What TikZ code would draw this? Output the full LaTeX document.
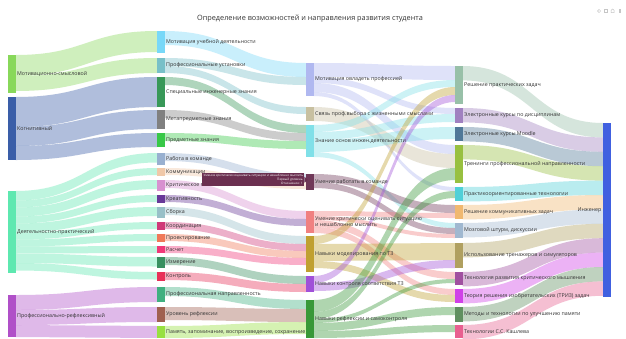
\documentclass[tikz,border=0pt]{standalone}
\usepackage{fontspec}
\setmainfont{Open Sans}
\usetikzlibrary{calc}
\pgfdeclarelayer{back}
\pgfdeclarelayer{flows}
\pgfsetlayers{back,flows,main}

\definecolor{cMS}{HTML}{88D85A}
\definecolor{cKOG}{HTML}{3A5EA8}
\definecolor{cDP}{HTML}{5EE8B0}
\definecolor{cPR}{HTML}{B050C8}
\definecolor{cMUD}{HTML}{78D8F8}
\definecolor{cPU}{HTML}{78C0C8}
\definecolor{cSIZ}{HTML}{389858}
\definecolor{cMZ}{HTML}{808080}
\definecolor{cPZ}{HTML}{38C848}
\definecolor{cRK}{HTML}{98B0D0}
\definecolor{cKOMM}{HTML}{F0C8A8}
\definecolor{cKM}{HTML}{D890D0}
\definecolor{cKREAT}{HTML}{683898}
\definecolor{cSB}{HTML}{98C0C8}
\definecolor{cKOORD}{HTML}{D03878}
\definecolor{cPROEKT}{HTML}{F07858}
\definecolor{cRASCH}{HTML}{F03878}
\definecolor{cIZM}{HTML}{389060}
\definecolor{cKONTR}{HTML}{E83058}
\definecolor{cPN}{HTML}{40B080}
\definecolor{cUR}{HTML}{A06050}
\definecolor{cPAM}{HTML}{98E040}
\definecolor{cMO}{HTML}{B0B8F0}
\definecolor{cSV}{HTML}{C8C0A0}
\definecolor{cZO}{HTML}{80E0E8}
\definecolor{cURK}{HTML}{703858}
\definecolor{cUKO}{HTML}{F08080}
\definecolor{cNM}{HTML}{C0A030}
\definecolor{cNK}{HTML}{A050D8}
\definecolor{cNR}{HTML}{389838}
\definecolor{cRPZ}{HTML}{98C0A8}
\definecolor{cEKD}{HTML}{A080C0}
\definecolor{cMOODLE}{HTML}{507898}
\definecolor{cTREN}{HTML}{98C040}
\definecolor{cPRAKT}{HTML}{50D0D8}
\definecolor{cRKZ}{HTML}{F0B870}
\definecolor{cMSH}{HTML}{A0B8D0}
\definecolor{cITS}{HTML}{B0A060}
\definecolor{cTRKM}{HTML}{A050A0}
\definecolor{cTRIZ}{HTML}{D040E8}
\definecolor{cMET}{HTML}{609060}
\definecolor{cKASH}{HTML}{E86090}
\definecolor{cING}{HTML}{4060E0}
\definecolor{cTIP}{HTML}{6B3050}

\tikzset{
  nbar/.style={draw=none, inner sep=0, outer sep=0, minimum width=7.5, minimum height=#1, anchor=north west},
  lbl/.style={font=\fontsize{5.3}{6.1}\selectfont, text=black!80, inner sep=0},
  lr/.style={label={[lbl]right:#1}},
  tiptxt/.style={font=\fontsize{3.1}{3.5}\selectfont, text=white, inner sep=0},
}

% band from #1 to #2, width #3, colour #4; stacked at both ends
\makeatletter
\newcommand{\sflow}[4]{%
  \@ifundefined{fo@#1}{\global\@namedef{fo@#1}{0}}{}%
  \@ifundefined{fi@#2}{\global\@namedef{fi@#2}{0}}{}%
  \edef\fa{\@nameuse{fo@#1}}\edef\fb{\@nameuse{fi@#2}}%
  \pgfmathsetmacro\fc{\fa+#3}\pgfmathsetmacro\fd{\fb+#3}%
  \begin{pgfonlayer}{flows}
    \fill[#4, fill opacity=.4]
      ($(#1.north east)+(0,\fa)$) .. controls +(70,0) and +(-70,0) .. ($(#2.north west)+(0,\fb)$)
      -- ($(#2.north west)+(0,\fd)$) .. controls +(-70,0) and +(70,0) .. ($(#1.north east)+(0,\fc)$) -- cycle;
  \end{pgfonlayer}%
  \global\expandafter\let\csname fo@#1\endcsname\fc
  \global\expandafter\let\csname fi@#2\endcsname\fd
}
\makeatother

\begin{document}
\begin{tikzpicture}[x=1pt, y=-1pt, label distance=1.5pt]
  \begin{pgfonlayer}{back}
    \fill[white] (0,0) rectangle (626,338);
  \end{pgfonlayer}
  \useasboundingbox (0,0) rectangle (626,338);

  \node[font=\fontsize{7.3}{8}\selectfont, text=black!80] (title) at (310,19) {Определение возможностей и направления развития студента};

  % level 0
  \node[nbar=38, fill=cMS, lr=Мотивационно-смысловой] (ms) at (8,55) {};
  \node[nbar=63, fill=cKOG, lr=Когнитивный] (kog) at (8,97) {};
  \node[nbar=82, fill=cDP, lr=Деятельностно-практический] (dp) at (8,191) {};
  \node[nbar=42, fill=cPR, lr=Профессионально-рефлексивный] (pr) at (8,295) {};

  % level 1
  \node[nbar=22, fill=cMUD, lr=Мотивация учебной деятельности] (mud) at (157,31) {};
  \node[nbar=15, fill=cPU, lr=Профессиональные установки] (pu) at (157,58) {};
  \node[nbar=30, fill=cSIZ, lr=Специальные инженерные знания] (siz) at (157,77) {};
  \node[nbar=19, fill=cMZ, lr=Метапредметные знания] (mz) at (157,110) {};
  \node[nbar=14, fill=cPZ, lr=Предметные знания] (pz) at (157,133) {};
  \node[nbar=12, fill=cRK, lr=Работа в команде] (rk) at (157,153) {};
  \node[nbar=8, fill=cKOMM, lr=Коммуникации] (komm) at (157,168) {};
  \node[nbar=11, fill=cKM, lr=Критическое мышление] (km) at (157,180) {};
  \node[nbar=8, fill=cKREAT, lr=Креативность] (kreat) at (157,195) {};
  \node[nbar=11, fill=cSB, lr=Сборка] (sb) at (157,207) {};
  \node[nbar=8, fill=cKOORD, lr=Координация] (koord) at (157,222) {};
  \node[nbar=8, fill=cPROEKT, lr=Проектирование] (proekt) at (157,234) {};
  \node[nbar=7, fill=cRASCH, lr=Расчет] (rasch) at (157,246) {};
  \node[nbar=11, fill=cIZM, lr=Измерение] (izm) at (157,257) {};
  \node[nbar=9, fill=cKONTR, lr=Контроль] (kontr) at (157,272) {};
  \node[nbar=15, fill=cPN, lr=Профессиональная направленность] (pn) at (157,287) {};
  \node[nbar=15, fill=cUR, lr=Уровень рефлексии] (ur) at (157,307) {};
  \node[nbar=12, fill=cPAM, lr={Память, запоминание, воспроизведение, сохранение}] (pam) at (157,326) {};

  % level 2
  \node[nbar=33, fill=cMO, lr=Мотивация овладеть профессией] (mo) at (306,63) {};
  \node[nbar=14, fill=cSV, lr=Связь проф.выбора с жизненными смыслами] (sv) at (306,107) {};
  \node[nbar=32, fill=cZO, lr=Знание основ инжен.деятельности] (zo) at (306,125) {};
  \node[nbar=16, fill=cURK, lr=Умение работать в команде] (urk) at (306,174) {};
  \node[nbar=22, fill=cUKO, label={[lbl, align=left]right:{Умение критически оценивать ситуацию\\и нешаблонно мыслить}}] (uko) at (306,211) {};
  \node[nbar=36, fill=cNM, lr=Навыки моделирования по ТЗ] (nm) at (306,236) {};
  \node[nbar=16, fill=cNK, lr=Навыки контроля соответствия ТЗ] (nk) at (306,276) {};
  \node[nbar=38, fill=cNR, lr=Навыки рефлексии и самоконтроля] (nr) at (306,300) {};

  % level 3
  \node[nbar=38, fill=cRPZ, lr=Решение практических задач] (rpz) at (455,66) {};
  \node[nbar=15, fill=cEKD, lr=Электронные курсы по дисциплинам] (ekd) at (455,108) {};
  \node[nbar=14, fill=cMOODLE, lr=Электронные курсы Moodle] (moodle) at (455,127) {};
  \node[nbar=38, fill=cTREN, lr=Тренинги профессиональной направленности] (tren) at (455,145) {};
  \node[nbar=14, fill=cPRAKT, lr=Практикоориентированные технологии] (prakt) at (455,187) {};
  \node[nbar=14, fill=cRKZ, lr=Решение коммуникативных задач] (rkz) at (455,205) {};
  \node[nbar=15, fill=cMSH, lr={Мозговой штурм, дискуссии}] (msh) at (455,223) {};
  \node[nbar=25, fill=cITS, lr=Использование тренажеров и симуляторов] (its) at (455,243) {};
  \node[nbar=13, fill=cTRKM, lr=Технология развития критического мышления] (trkm) at (455,272) {};
  \node[nbar=14, fill=cTRIZ, lr=Теория решения изобретательских (ТРИЗ) задач] (triz) at (455,289) {};
  \node[nbar=15, fill=cMET, lr=Методы и технологии по улучшению памяти] (met) at (455,307) {};
  \node[nbar=13, fill=cKASH, lr=Технологии С.С. Кашлева] (kash) at (455,325) {};

  % level 4
  \node[nbar=174, fill=cING, label={[lbl]left:Инженер}] (ing) at (603,123) {};

  % bands 0 -> 1
  \sflow{ms}{mud}{21}{cMS}
  \sflow{ms}{pu}{15}{cMS}
  \sflow{kog}{siz}{30}{cKOG}
  \sflow{kog}{mz}{19}{cKOG}
  \sflow{kog}{pz}{14}{cKOG}
  \sflow{dp}{rk}{9.5}{cDP}
  \sflow{dp}{komm}{7}{cDP}
  \sflow{dp}{km}{9}{cDP}
  \sflow{dp}{kreat}{7}{cDP}
  \sflow{dp}{sb}{9}{cDP}
  \sflow{dp}{koord}{7}{cDP}
  \sflow{dp}{proekt}{7}{cDP}
  \sflow{dp}{rasch}{7}{cDP}
  \sflow{dp}{izm}{9.5}{cDP}
  \sflow{dp}{kontr}{7.5}{cDP}
  \sflow{pr}{pn}{15}{cPR}
  \sflow{pr}{ur}{15}{cPR}
  \sflow{pr}{pam}{12}{cPR}

  % bands 1 -> 2
  \sflow{mud}{mo}{14}{cMUD}
  \sflow{pu}{mo}{8}{cPU}
  \sflow{pu}{sv}{7}{cPU}
  \sflow{siz}{zo}{8}{cSIZ}
  \sflow{mz}{zo}{8}{cMZ}
  \sflow{pz}{zo}{8}{cPZ}
  \sflow{rk}{urk}{8}{cRK}
  \sflow{komm}{urk}{7}{cKOMM}
  \sflow{km}{uko}{8}{cKM}
  \sflow{kreat}{uko}{7}{cKREAT}
  \sflow{sb}{nm}{8}{cSB}
  \sflow{koord}{nm}{7}{cKOORD}
  \sflow{proekt}{nm}{7}{cPROEKT}
  \sflow{rasch}{nm}{7}{cRASCH}
  \sflow{izm}{nk}{8}{cIZM}
  \sflow{kontr}{nk}{8}{cKONTR}
  \sflow{pn}{nr}{9}{cPN}
  \sflow{ur}{nr}{13}{cUR}
  \sflow{pam}{nr}{12}{cPAM}

  % bands 2 -> 3
  \sflow{mo}{rpz}{14}{cMO}
  \sflow{mo}{ekd}{6}{cMO}
  \sflow{mo}{tren}{9}{cMO}
  \sflow{mo}{prakt}{4}{cMO}
  \sflow{sv}{tren}{14}{cSV}
  \sflow{zo}{rpz}{7}{cZO}
  \sflow{zo}{ekd}{8}{cZO}
  \sflow{zo}{moodle}{12}{cZO}
  \sflow{zo}{msh}{5}{cZO}
  \sflow{urk}{rkz}{8}{cURK}
  \sflow{urk}{msh}{6}{cURK}
  \sflow{uko}{rkz}{5}{cUKO}
  \sflow{uko}{msh}{4}{cUKO}
  \sflow{uko}{trkm}{7}{cUKO}
  \sflow{uko}{triz}{6}{cUKO}
  \sflow{nm}{rpz}{8}{cNM}
  \sflow{nm}{its}{17}{cNM}
  \sflow{nm}{triz}{7}{cNM}
  \sflow{nk}{rpz}{7}{cNK}
  \sflow{nk}{its}{8}{cNK}
  \sflow{nr}{tren}{12}{cNR}
  \sflow{nr}{prakt}{7}{cNR}
  \sflow{nr}{trkm}{4}{cNR}
  \sflow{nr}{met}{8}{cNR}
  \sflow{nr}{kash}{7}{cNR}

  % bands 3 -> 4
  \foreach \src/\col in {rpz/cRPZ, ekd/cEKD, moodle/cMOODLE, tren/cTREN, prakt/cPRAKT, rkz/cRKZ, msh/cMSH, its/cITS, trkm/cTRKM, triz/cTRIZ, met/cMET, kash/cKASH}
    {\sflow{\src}{ing}{14.4}{\col}}

  % hover box
  \node[fill=cTIP, inner sep=0, minimum width=102, minimum height=13, anchor=north west] (tip) at (202,173) {};
  \fill[cTIP] ($(tip.east)+(0,-3)$) -- (308,180) -- ($(tip.east)+(0,3)$) -- cycle;
  \node[tiptxt, anchor=west] (tip1) at ($(tip.north west)+(1.5,3)$) {Умение критически оценивать ситуацию и нешаблонно мыслить};
  \node[tiptxt, anchor=east] (tip2) at ($(tip.north east)+(-1.5,6.5)$) {Первый уровень};
  \node[tiptxt, anchor=east] (tip3) at ($(tip.north east)+(-1.5,10)$) {Отношение: 1};

  % toolbar
  \draw[gray!45, line width=.5] (599,11) circle (1.6);
  \draw[gray!45, line width=.5] (604.5,9.4) rectangle (607.7,12.6);
  \draw[gray!45, line width=.5] (611,12.6) -- (611,10.4) -- (612.6,9) -- (614.2,10.4) -- (614.2,12.6) -- cycle;
  \fill[gray!45] (619,9.2) rectangle (621,12.8);
\end{tikzpicture}
\end{document}
